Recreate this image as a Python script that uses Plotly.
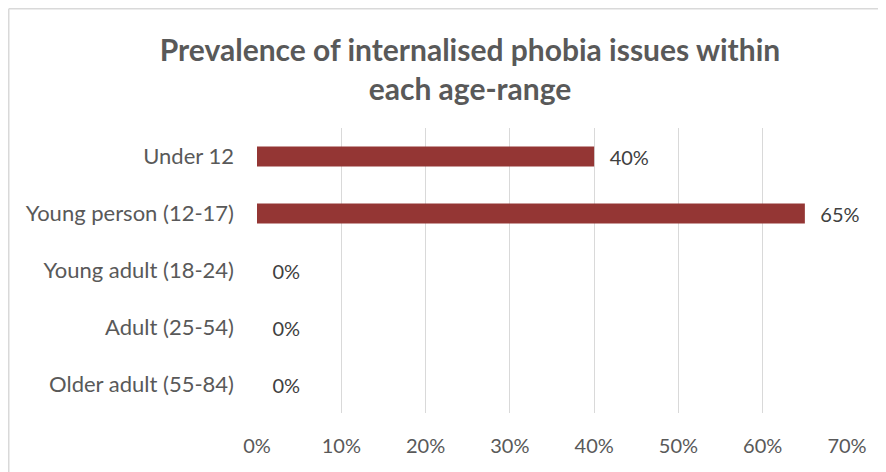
import plotly.graph_objects as go

categories = ["Under 12", "Young person (12-17)", "Young adult (18-24)", "Adult (25-54)", "Older adult (55-84)"]
values = [0.40, 0.65, 0.0, 0.0, 0.0]
tick_vals = [0, 0.1, 0.2, 0.3, 0.4, 0.5, 0.6, 0.7]
tick_text = ["0%", "10%", "20%", "30%", "40%", "50%", "60%", "70%"]
title_text = "Prevalence of internalised phobia issues within<br>each age-range"

W, H = 886, 472
OFF = 8  # page body margin
L, R, T, B = 257 - OFF, 886 - 847 + OFF, 128 - OFF, 472 - 413 + OFF
pw, ph = W - L - R, H - T - B

def px_x(x):
    return (x - OFF - L) / pw

def px_y(y):
    return (H - B - (y - OFF)) / ph

fig = go.Figure(go.Bar(
    y=categories, x=values, orientation="h",
    marker=dict(color="#943634", line=dict(width=0)),
    texttemplate="\u2002\u2009%{x:.0%}", textposition="outside", constraintext="none",
    textfont=dict(family="Lato", size=20, color="#404040"),
    cliponaxis=False,
))

fig.update_layout(
    width=W, height=H,
    margin=dict(l=L, r=R, t=T, b=B, pad=0),
    paper_bgcolor="white", plot_bgcolor="white",
    bargap=0.65,
    showlegend=False,
    font=dict(family="Lato", size=20, color="#595959"),
    title=dict(text="<b>" + title_text + "</b>", x=(470 - OFF) / W, xanchor="center",
               y=1 - 53 / H, yanchor="top", xref="container", yref="container",
               font=dict(family="Lato", size=30, color="#595959")),
    xaxis=dict(range=[0, 0.7], tickvals=tick_vals, ticktext=tick_text,
               showgrid=True, gridcolor="#d9d9d9", gridwidth=1.3, zeroline=False,
               showline=False, ticks="", ticklabelstandoff=19,
               tickfont=dict(family="Lato", size=20, color="#595959")),
    yaxis=dict(autorange="reversed", showgrid=False, zeroline=False, showline=False,
               ticks="", ticklabelstandoff=22,
               tickfont=dict(family="Lato", size=22, color="#595959")),
    shapes=[
        dict(type="line", xref="paper", yref="paper", x0=px_x(8.75), x1=px_x(W + 20),
             y0=px_y(8.75), y1=px_y(8.75), line=dict(color="#d9d9d9", width=1.5)),
        dict(type="line", xref="paper", yref="paper", x0=px_x(8.75), x1=px_x(8.75),
             y0=px_y(8.75), y1=px_y(H + 20), line=dict(color="#d9d9d9", width=1.5)),
    ],
)

fig.write_html("out.html")
